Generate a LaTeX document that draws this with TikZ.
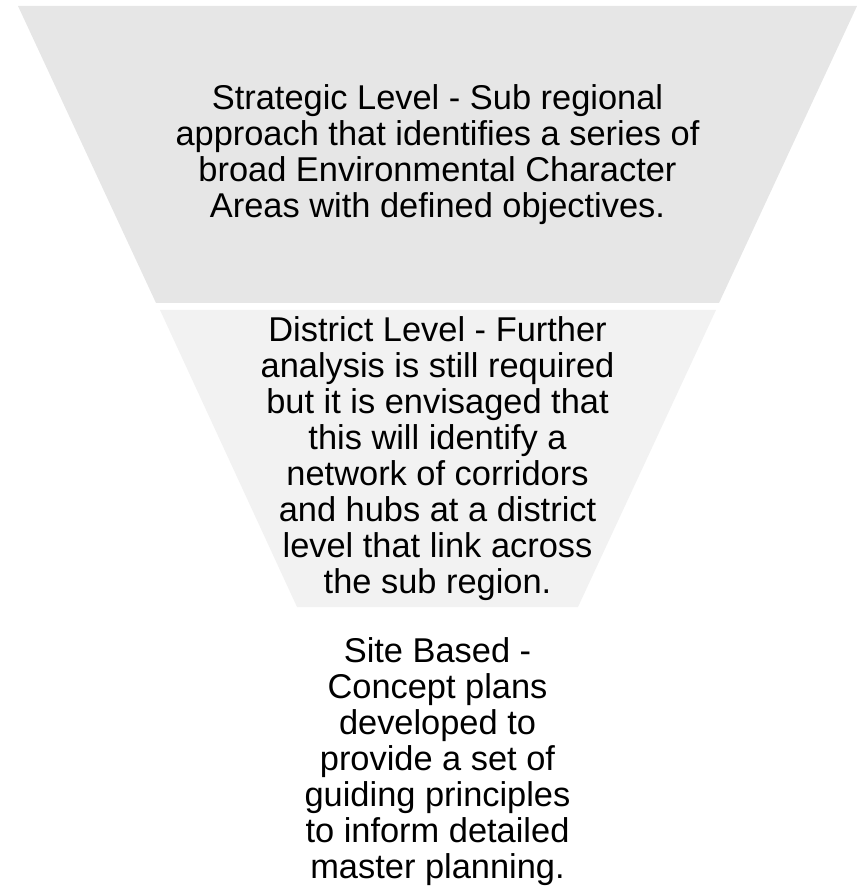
\documentclass[tikz,border=0pt]{standalone}
\usepackage{fontspec}
\setmainfont{Liberation Sans}
\definecolor{strategicFill}{HTML}{E6E6E6}
\definecolor{districtFill}{HTML}{F2F2F2}
\begin{document}
\begin{tikzpicture}[x=0.75pt,y=-0.75pt,
  levelText/.style={align=center,font=\fontsize{25.8}{27}\selectfont,inner sep=0pt}]
  \useasboundingbox (0,0) rectangle (860,887);

  % Draw the funnel
  \fill[strategicFill] (18,6) -- (857,6) -- (719,303) -- (156,303) -- cycle;
  \fill[districtFill] (160,310) -- (716,310) -- (578,607) -- (297,607) -- cycle;

  % Labels
  \node[levelText] (strategic) at (437.5,154.5)
    {Strategic Level - Sub regional\\approach that identifies a series of\\broad Environmental Character\\Areas with defined objectives.};
  \node[levelText] (district) at (437.5,458.5)
    {District Level - Further\\analysis is still required\\but it is envisaged that\\this will identify a\\network of corridors\\and hubs at a district\\level that link across\\the sub region.};
  \node[levelText] (site) at (437.5,762)
    {Site Based -\\Concept plans\\developed to\\provide a set of\\guiding principles\\to inform detailed\\master planning.};
\end{tikzpicture}
\end{document}
